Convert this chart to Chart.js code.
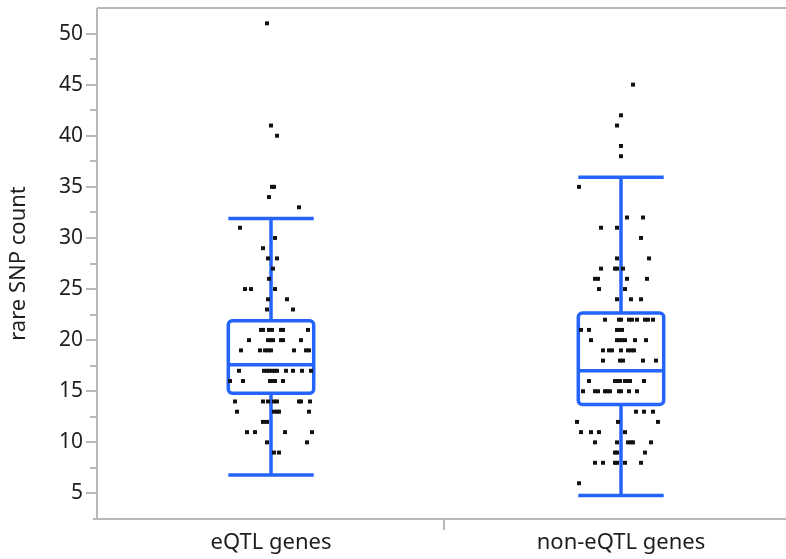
<!DOCTYPE html>
<html>
<head>
<meta charset="utf-8">
<script src="https://cdn.jsdelivr.net/npm/chart.js@4"></script>
<style>
  html, body { margin: 0; padding: 0; overflow: hidden; background: #fff; }
</style>
</head>
<body>
<canvas id="snpChart" width="800" height="559"></canvas>
<script>
const categories = ['eQTL genes', 'non-eQTL genes'];
const yTicks = [5, 10, 15, 20, 25, 30, 35, 40, 45, 50];

// box plot summary per category
const whiskerLow = [6.8, 4.8];
const quartile1 = [14.8, 13.7];
const medians = [17.6, 17.0];
const quartile3 = [21.9, 22.65];
const whiskerHigh = [31.9, 35.95];

// rare SNP count per gene, and its horizontal jitter (in 1/350 of a category)
const eqtlCounts = [
  51, 41, 40, 35, 35, 34, 33, 31, 30, 29, 28, 28, 27, 26, 25, 25, 25, 24, 24, 23, 23,
  21, 21, 21, 21, 21, 21, 21,
  20, 20, 20, 20, 20, 20, 20,
  19, 19, 19, 19, 19, 19, 19, 19,
  17, 17, 17, 17, 17, 17, 17, 17, 17, 17, 17,
  16, 16, 16, 16, 16, 16,
  14, 14, 14, 14, 14, 14, 14, 14,
  13, 13, 13, 13, 13,
  12, 12, 11, 11, 11, 11, 10, 10, 9, 9
];
const eqtlJitter = [
  -4, 0, 6, 1, 3, -2, 28, -31, 4, -8, -3, 6, 2, -2, -26, -20, 4, -3, 16, -4, 22,
  -10, -8, -2, 1, 10, 12, 37,
  -22, -3, 0, 2, 10, 12, 30,
  -30, -11, -6, -3, 0, 23, 35, 38,
  -32, -7, -4, -2, 1, 4, 6, 15, 22, 31, 40,
  -41, -28, -1, 2, 4, 12,
  -36, -8, -3, 3, 6, 28, 30, 39,
  -34, 3, 6, 8, 38,
  -8, -4, -24, -16, 14, 41, -4, 36, 3, 8
];
const nonEqtlCounts = [
  45, 42, 41, 39, 38, 35, 32, 32, 31, 31, 30, 28, 28,
  27, 27, 27, 27, 26, 26, 26, 26, 25, 25, 24, 24, 24,
  22, 22, 22, 22, 22, 22, 22, 22, 22,
  21, 21, 21, 21, 21,
  20, 20, 20, 20, 20, 20, 20,
  19, 19, 19, 19, 19, 19, 19,
  18, 18, 18, 18, 18,
  16, 16, 16, 16, 16, 16, 16, 16,
  15, 15, 15, 15, 15, 15, 15, 15, 15, 15,
  13, 13, 13, 12, 12, 12, 11, 11, 11, 11,
  10, 10, 10, 10, 10, 10, 9, 9, 9,
  8, 8, 8, 8, 8, 8, 6
];
const nonEqtlJitter = [
  12, 0, -4, 0, 0, -42, 6, 22, -20, -4, 20, -4, 28,
  -20, -6, -4, 2, -26, -23, 6, 26, -22, 4, -4, 10, 20,
  -16, -2, 0, 8, 11, 16, 24, 27, 32,
  -40, -32, -4, -2, 1,
  -30, -4, -2, 1, 4, 14, 25,
  -18, -12, -9, 0, 7, 10, 13,
  -18, -1, 2, 22, 35,
  -32, -6, -3, -1, 4, 7, 9, 23,
  -38, -26, -23, -16, -14, -11, -2, 0, 8, 16,
  15, 23, 32, -44, -3, 37, -40, -30, -22, 4,
  -26, -4, 7, 10, 12, 30, -6, -4, 24,
  -26, -18, -6, -4, 4, 20, -42
];

const BLUE = 'rgb(36, 100, 250)';
const AXIS = '#b8b8b8';
const TEXT = '#1e1e1e';
const BOX_HALF = 0.122;
const font = { family: "'Noto Sans', 'Open Sans', sans-serif", size: 22 };
const tickFont = { family: "'Noto Sans', 'Open Sans', sans-serif", size: 21, lineHeight: 0.4 };

function points(counts, jitter, idx) {
  return counts.map((v, k) => ({ x: idx + 0.5 + jitter[k] / 350, y: v }));
}

const boxPlot = {
  id: 'boxPlot',
  beforeDatasetsDraw(chart) {
    const { ctx, chartArea: a, scales: { x, y } } = chart;
    ctx.save();

    // frame and axes
    ctx.strokeStyle = AXIS;
    ctx.lineWidth = 2;
    ctx.beginPath();
    ctx.moveTo(a.left + 1, a.top);
    ctx.lineTo(a.right, a.top);
    ctx.moveTo(a.left + 1, a.top);
    ctx.lineTo(a.left + 1, a.bottom);
    ctx.moveTo(a.left - 3, a.bottom);
    ctx.lineTo(a.right, a.bottom);
    // category divider
    const xd = x.getPixelForValue(1) - 2;
    ctx.moveTo(xd, a.bottom);
    ctx.lineTo(xd, a.bottom + 11);
    // y ticks, major and minor
    yTicks.forEach(v => {
      const py = Math.round(y.getPixelForValue(v));
      ctx.moveTo(a.left - 10, py);
      ctx.lineTo(a.left, py);
      const pm = Math.round(y.getPixelForValue(v + 2.5));
      if (v + 2.5 < y.max) {
        ctx.moveTo(a.left - 6, pm);
        ctx.lineTo(a.left, pm);
      }
    });
    ctx.stroke();

    // boxes and whiskers
    ctx.strokeStyle = BLUE;
    ctx.lineWidth = 3.5;
    categories.forEach((c, i) => {
      const cx = x.getPixelForValue(i + 0.5);
      const l = x.getPixelForValue(i + 0.5 - BOX_HALF);
      const r = x.getPixelForValue(i + 0.5 + BOX_HALF);
      const lo = y.getPixelForValue(whiskerLow[i]);
      const q1 = y.getPixelForValue(quartile1[i]);
      const md = y.getPixelForValue(medians[i]);
      const q3 = y.getPixelForValue(quartile3[i]);
      const hi = y.getPixelForValue(whiskerHigh[i]);
      ctx.beginPath();
      ctx.moveTo(cx, lo); ctx.lineTo(cx, q1);
      ctx.moveTo(cx, q3); ctx.lineTo(cx, hi);
      ctx.moveTo(l, lo); ctx.lineTo(r, lo);
      ctx.moveTo(l, hi); ctx.lineTo(r, hi);
      ctx.moveTo(l, md); ctx.lineTo(r, md);
      ctx.stroke();
      ctx.beginPath();
      ctx.roundRect(l, q3, r - l, q1 - q3, 4);
      ctx.stroke();
    });
    ctx.restore();
  }
};

new Chart(document.getElementById('snpChart'), {
  type: 'scatter',
  data: {
    datasets: [
      { label: categories[0], data: points(eqtlCounts, eqtlJitter, 0) },
      { label: categories[1], data: points(nonEqtlCounts, nonEqtlJitter, 1) }
    ]
  },
  options: {
    responsive: false,
    animation: false,
    layout: { padding: { top: 8, right: 0, bottom: 0, left: 0 } },
    elements: {
      point: { pointStyle: 'rect', radius: 2.8, backgroundColor: '#111', borderWidth: 0 }
    },
    plugins: { legend: { display: false }, tooltip: { enabled: false } },
    scales: {
      x: {
        type: 'linear', min: 0, max: 2,
        grid: { display: false, drawTicks: true, tickLength: 10 },
        border: { display: false },
        afterBuildTicks: s => { s.ticks = categories.map((c, i) => ({ value: i + 0.5 })); },
        afterFit: s => { s.height = 40; },
        ticks: { callback: (v, i) => categories[i], font, color: TEXT, padding: 1, maxRotation: 0, autoSkip: false }
      },
      y: {
        min: 2.5, max: 52.5,
        grid: { display: false, drawTicks: true, tickLength: 10 },
        border: { display: false },
        afterBuildTicks: s => { s.ticks = yTicks.map(v => ({ value: v })); },
        afterFit: s => { s.width = 96; },
        ticks: { font: tickFont, color: TEXT, padding: 3 },
        title: { display: true, text: 'rare SNP count', font, color: TEXT, padding: { top: 6, bottom: 0 } }
      }
    }
  },
  plugins: [boxPlot]
});
</script>
</body>
</html>
